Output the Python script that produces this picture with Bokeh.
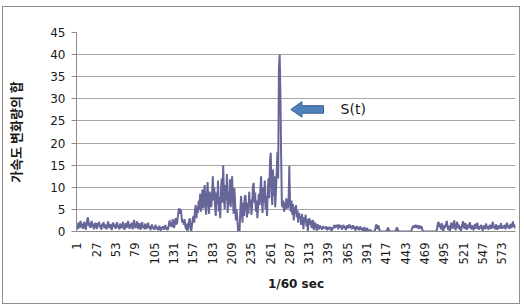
import math
from bokeh.plotting import figure
from bokeh.layouts import column
from bokeh.models import Range1d, FixedTicker, Label
from bokeh.embed import file_html
from bokeh.resources import INLINE

# ---- data ----
seg_a = [1.2, 0.5, 2.0, 1.5, 0.8, 2.4, 1.0, 1.8, 0.6, 1.5, 2.2, 1.0, 0.4, 1.6, 2.8, 3.2, 1.2, 2.0, 0.8, 1.6,
         2.4, 1.0, 1.8, 0.5, 1.4, 2.0, 1.1, 0.6, 1.9, 1.3, 2.2, 0.9, 1.5, 0.4, 1.8, 1.2, 2.1, 0.7, 1.6, 1.0,
         0.5, 1.4, 2.3, 1.1, 0.8, 1.7, 1.2, 0.3, 1.5, 2.0, 1.0, 1.6, 0.6, 1.3, 2.1, 0.9, 1.4, 0.5, 1.8, 1.1,
         0.7, 1.5, 2.2, 1.0, 0.4, 1.3, 1.9, 0.8, 1.6, 2.4, 1.2, 0.6, 1.7, 1.0, 2.0, 0.5, 1.4, 2.6, 1.1, 0.8,
         1.5, 2.3, 1.0, 0.6, 1.9, 1.2, 0.4, 1.6, 2.1, 0.9, 1.3, 0.5, 1.8, 1.0, 0.6, 1.4, 2.0, 0.8, 1.2, 0.3,
         1.0, 1.6, 0.7, 1.1, 0.4, 0.9, 1.5, 0.6, 1.0, 0.3, 0.8, 1.3, 0.5, 0.2, 1.0, 0.6, 1.2, 0.4, 0.8, 1.5,
         0.5, 1.0, 0.3, 0.7, 1.8, 2.5, 1.2, 2.0, 1.0, 2.8, 1.5, 0.8, 2.2, 3.0, 1.6]
seg_b = [2.0, 3.5, 4.8, 5.2, 4.0, 5.0, 3.2, 2.0, 2.6, 1.5, 2.8, 1.2, 0.5, 1.8, 0.0, 1.0, 2.4, 3.0, 0.8, 0.0,
         1.5, 2.8]
seg_c = [3.5, 2.0, 4.8, 6.0, 3.0, 5.5, 4.2, 7.0, 5.0, 8.5, 4.5, 6.8, 9.5, 5.2, 7.5, 10.5, 6.0, 3.8, 8.0, 11.2,
         6.5, 4.0, 9.0, 7.2, 5.5, 8.2, 12.5, 7.0, 10.0, 5.8, 3.5, 8.8, 6.2, 11.5, 4.5, 7.8, 3.0, 9.5, 12.0, 6.5,
         15.0, 8.0, 5.0, 10.5, 7.0, 13.0, 4.2, 9.0, 6.0, 11.8, 5.5, 8.5, 12.5, 7.5, 4.0, 9.8, 6.8, 2.5, 5.0, 3.0,
         0.0, 0.5, 0.0, 4.5, 8.0, 5.5, 2.0, 6.5]
seg_d = [3.5, 7.8, 8.2, 5.0, 3.2, 6.5, 4.0, 9.0, 5.5, 7.2, 3.8, 6.0, 10.2, 11.0, 6.5, 8.8, 4.5, 7.0, 3.0, 5.8,
         8.5, 6.0, 9.5, 12.5, 7.0, 4.2, 10.0, 6.5, 11.5, 5.0, 8.0, 3.5, 9.2, 12.0, 7.5, 16.0, 17.8, 10.5, 6.0, 14.0,
         8.0, 12.5, 5.5, 9.0, 13.5, 18.0, 12.0, 37.0, 40.0, 31.5, 17.0, 6.0,
         5.5, 7.0, 4.5, 6.5, 5.0, 7.5, 6.0, 5.2, 6.8, 14.8, 6.0, 4.5, 7.0, 3.8, 6.2, 2.5, 5.5, 4.0, 6.0, 3.2,
         4.8, 2.0, 4.2, 3.0]
seg_e = [3.5, 1.5, 4.0, 2.5, 0.5, 3.2, 2.0, 3.8, 1.2, 2.8, 0.0, 2.2, 3.0, 1.5, 2.5, 0.8, 1.8, 2.6, 0.3, 1.5,
         2.0, 1.0, 0.2, 1.6, 1.2, 0.5, 1.4, 0.8, 1.0, 0.4, 1.2, 0.8, 1.0, 0.6, 1.1, 0.9, 0.3, 1.0, 0.8, 0.5,
         1.0, 0.7, 0.0, 0.9, 0.6]
seg_f = [1.2, 1.5, 0.8, 1.4, 1.0, 1.6, 0.5, 1.2, 1.5, 0.9, 1.3, 0.4, 1.1, 1.5, 0.8, 1.2, 0.3, 1.0, 1.4, 0.7,
         1.2, 1.6, 0.9, 1.3, 0.5, 1.0, 1.4, 0.6, 1.1, 0.2, 0.8, 1.2, 0.5, 1.0, 0.3, 0.9, 1.1, 0.4, 0.8, 0.0,
         0.6, 1.0, 0.3, 0.0, 0.5, 0.8, 0.2, 0.0, 0.0, 0.4,
         0.0, 0.0, 0.0, 0.0, 0.0, 0.0, 0.8, 1.6, 1.2, 0.5, 1.4, 0.6, 0.0, 0.0, 0.0, 0.0, 0.0, 0.0, 0.0, 0.0,
         0.0, 0.0, 0.5, 0.9, 0.3, 0.0, 0.0, 0.0, 0.0, 0.0, 0.0, 0.0, 0.0, 0.0, 0.6, 0.9, 0.4, 0.0, 0.0, 0.0,
         0.0, 0.0, 0.0, 0.0, 0.0]
seg_g = [0.0, 0.0, 0.0, 0.0, 0.0, 0.0, 0.0, 0.0, 0.0, 0.0,
         0.5, 1.0, 1.3, 0.8, 1.2, 1.5, 0.9, 1.1, 1.4, 0.6, 1.0, 1.3, 0.7, 1.2, 0.4, 0.0, 0.0, 0.0, 0.0, 0.0,
         0.0, 0.0, 0.0, 0.0, 0.0, 0.0, 0.0, 0.0, 0.0, 0.0, 0.0, 0.0, 0.0, 0.0,
         0.8, 1.8, 2.2, 1.0, 1.6, 0.5, 1.9, 1.2, 0.0, 0.6, 1.5, 0.9, 1.7, 2.4, 1.1, 0.4, 1.3, 0.0, 0.8, 2.0,
         1.4, 0.6, 1.8, 2.5, 1.0, 0.3, 1.5, 2.2, 0.8, 1.6, 0.5, 1.2, 0.0, 0.9, 1.7, 2.3, 1.1, 0.6, 1.9, 1.3,
         0.4, 1.0, 1.6, 0.8, 2.1, 1.2, 0.5, 1.4, 0.9, 0.3, 1.1, 1.7, 0.6, 1.3, 2.0, 0.9, 0.4, 1.2, 0.7, 1.5,
         1.0, 0.2, 0.8, 1.4, 0.5, 1.0, 1.8, 0.7, 1.2, 0.4, 0.9, 1.5, 1.1, 0.6, 1.3, 2.2, 0.8, 1.0, 0.5, 1.6,
         1.2, 0.4, 0.9, 1.4, 0.7, 1.1, 1.9, 0.6, 1.3, 0.8, 1.0, 1.5, 0.5, 1.2, 2.0, 0.9, 1.4, 0.6, 1.1, 1.7,
         0.8, 1.3, 2.3, 1.0, 1.6, 0.7]

s_values = seg_a + seg_b + seg_c + seg_d + seg_e + seg_f + seg_g
x_ticks = list(range(1, 574, 26))
y_ticks = list(range(0, 46, 5))
y_label = "가속도 변화량의 합"
x_label = "1/60 sec"
note_text = "S(t)"
note_x = 289.0
note_y = 27.6

n = len(s_values)
xs = list(range(1, n + 1))

W, H = 516, 296
p = figure(width=W, height=H, output_backend="svg", toolbar_location=None,
           x_range=Range1d(0.5, n + 0.5), y_range=Range1d(0, 45),
           min_border_left=71, min_border_right=4, min_border_top=25, min_border_bottom=72)
p.outline_line_color = None
p.background_fill_color = "white"

p.line(xs, s_values, line_color="#666699", line_width=2)

# axes
p.xaxis.ticker = FixedTicker(ticks=x_ticks)
p.xaxis.major_label_orientation = math.pi / 2
p.xaxis.major_label_text_font = "DejaVu Sans"
p.xaxis.major_label_text_font_size = "11.5px"
p.xaxis.major_label_text_color = "#1a1a1a"
p.xaxis.major_tick_out = 0
p.xaxis.major_tick_in = 0
p.xaxis.minor_tick_line_color = None
p.xaxis.major_label_standoff = 11
p.xaxis.axis_line_color = "#8c8c8c"
p.xaxis.axis_label = x_label
p.xaxis.axis_label_text_font = "DejaVu Sans"
p.xaxis.axis_label_text_font_style = "bold"
p.xaxis.axis_label_text_font_size = "12px"
p.xaxis.axis_label_text_color = "#1a1a1a"
p.xaxis.axis_label_standoff = 10

p.yaxis.ticker = FixedTicker(ticks=y_ticks)
p.yaxis.major_label_text_font = "DejaVu Sans"
p.yaxis.major_label_text_font_size = "12px"
p.yaxis.major_label_text_color = "#1a1a1a"
p.yaxis.major_tick_out = 5
p.yaxis.major_tick_in = 0
p.yaxis.major_tick_line_color = "#8c8c8c"
p.yaxis.minor_tick_line_color = None
p.yaxis.major_label_standoff = 6
p.yaxis.axis_line_color = "#8c8c8c"
p.yaxis.axis_label = y_label
p.yaxis.axis_label_text_font = "Noto Sans CJK KR"
p.yaxis.axis_label_text_font_style = "bold"
p.yaxis.axis_label_text_font_size = "13px"
p.yaxis.axis_label_text_color = "#1a1a1a"
p.yaxis.axis_label_standoff = 22

p.xgrid.grid_line_color = None
p.ygrid.ticker = FixedTicker(ticks=y_ticks)
p.ygrid.grid_line_color = "#a6a6a6"
p.ygrid.grid_line_width = 1

# block arrow annotation pointing left at the peak
ax = [note_x, note_x + 15, note_x + 15, note_x + 44, note_x + 44, note_x + 15, note_x + 15]
ay = [note_y, note_y + 1.75, note_y + 0.85, note_y + 0.85, note_y - 0.85, note_y - 0.85, note_y - 1.75]
p.patch(ax, ay, fill_color="#4F81BD", line_color="#385D8A", line_width=1)
p.add_layout(Label(x=note_x + 67, y=note_y, text=note_text, text_font="DejaVu Sans",
                   text_font_size="14px", text_color="#1a1a1a", text_baseline="middle"))

# chart-area border around the figure
page = column(p, styles={"border": "1px solid #8e8e8e", "margin": "6px 0 0 2px"})

open("out.html", "w").write(file_html(page, INLINE))
